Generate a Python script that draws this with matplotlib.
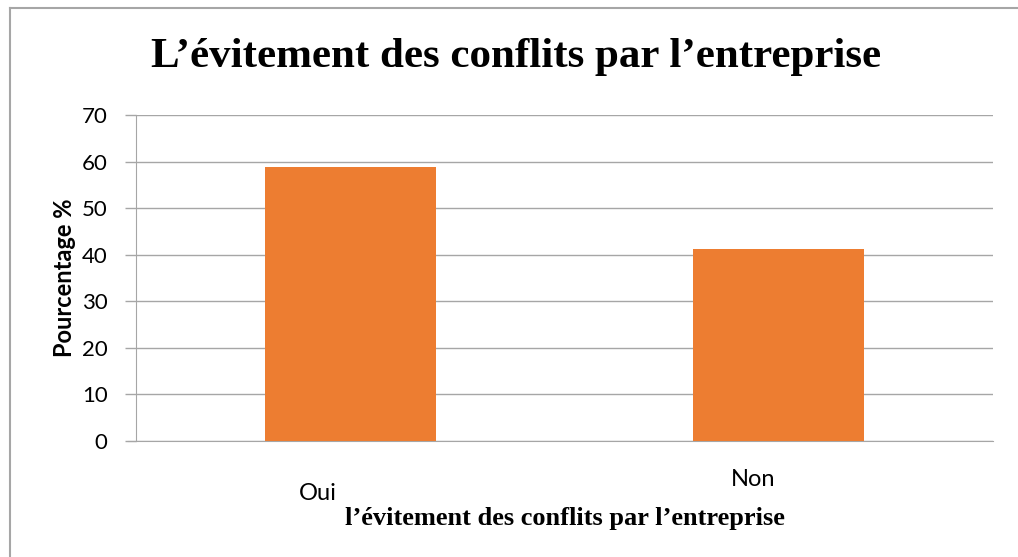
import matplotlib
matplotlib.use("Agg")
import matplotlib.pyplot as plt
from matplotlib.lines import Line2D

categories = ["Oui", "Non"]
values = [58.8, 41.2]
yticks = [0, 10, 20, 30, 40, 50, 60, 70]

W, H = 1018, 557
fig = plt.figure(figsize=(W / 100, H / 100), dpi=100)
ax = fig.add_axes([136 / W, 1 - 441 / H, (993 - 136) / W, (441 - 115) / H])

grey = "#A6A6A6"
x = range(len(categories))
ax.bar(x, values, width=0.4, color="#ED7D31", zorder=3)

ax.set_xlim(-0.5, 1.5)
ax.set_ylim(0, 70)
ax.set_yticks(yticks)
ax.set_yticklabels([str(v) for v in yticks], fontfamily="Lato", fontsize=16)
ax.tick_params(axis="y", length=8, color=grey, pad=12.5, width=1)
ax.set_xticks([])
ax.yaxis.grid(True, color=grey, linewidth=1, zorder=0)

for s in ["top", "right"]:
    ax.spines[s].set_visible(False)
ax.spines["left"].set_color(grey)
ax.spines["bottom"].set_color(grey)
ax.spines["bottom"].set_bounds(-0.5 - 8 / 428.5, 1.5)

# category labels sit a bit off-centre, as in the original
offsets = [(-32, -52), (-26, -39)]
for i, (lab, (dx, dy)) in enumerate(zip(categories, offsets)):
    ax.annotate(lab, xy=(i, 0), xycoords=("data", "axes fraction"),
                xytext=(dx * 0.72, dy * 0.72), textcoords="offset points",
                ha="center", va="center", fontfamily="Lato", fontsize=17)

ax.set_ylabel("Pourcentage %", fontfamily="Lato", fontweight="bold", fontsize=17, labelpad=4)
fig.text(565 / W, 1 - 518 / H, "l\u2019évitement des conflits par l\u2019entreprise",
         ha="center", va="center", fontfamily="Liberation Serif", fontweight="bold", fontsize=19)
fig.text(516 / W, 1 - 57 / H, "L\u2019évitement des conflits par l\u2019entreprise",
         ha="center", va="center", fontfamily="Liberation Serif", fontweight="bold", fontsize=31)

# outer chart frame
fig.add_artist(Line2D([10 / W, 1], [1 - 8 / H, 1 - 8 / H], color=grey, linewidth=1.5, transform=fig.transFigure))
fig.add_artist(Line2D([10 / W, 10 / W], [0, 1 - 8 / H], color=grey, linewidth=1.5, transform=fig.transFigure))

fig.savefig("out.png", dpi=100)
